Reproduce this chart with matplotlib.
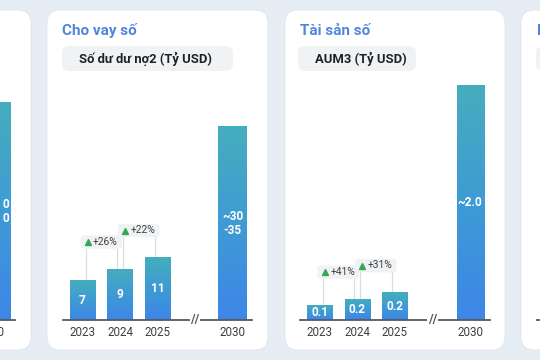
import matplotlib
matplotlib.use("Agg")
import matplotlib.pyplot as plt
import numpy as np
from matplotlib.patches import FancyBboxPatch
from matplotlib.colors import LinearSegmentedColormap

plt.rcParams['font.family'] = ['Roboto', 'DejaVu Sans']

# data
years = ['2023', '2024', '2025', '2030']
x_pos = [0, 1, 2, 4]

loan_values = [7, 9, 11, 34]
loan_labels = ['7', '9', '11', '~30\n-35']
loan_growth = ['+26%', '+22%']

aum_values = [0.13, 0.18, 0.235, 2.0]
aum_labels = ['0.1', '0.2', '0.2', '~2.0']
aum_growth = ['+41%', '+31%']

left_years = ['2030']
left_values = [1.0]
left_labels = ['0\n0']

# colours
BG = '#e7edf5'
CARD = '#ffffff'
TITLE = '#4f86dc'
PILL = '#f1f2f4'
AXIS = '#555a60'
GREEN = '#34a853'
bar_cmap = LinearSegmentedColormap.from_list('bar', ['#3d86e8', '#3f9bd4', '#45aebd'])

W, H = 540, 360
fig = plt.figure(figsize=(W / 100, H / 100), dpi=100)
fig.patch.set_facecolor(BG)

# background layer in pixel coords
bg = fig.add_axes([0, 0, 1, 1])
bg.set_xlim(0, W)
bg.set_ylim(H, 0)
bg.axis('off')


def card(x0, y0, x1, y1):
    bg.add_patch(FancyBboxPatch((x0, y0), x1 - x0, y1 - y0,
                                boxstyle='round,pad=0,rounding_size=13',
                                facecolor=CARD, edgecolor='#dde4ee', linewidth=0.6))


def pill(x0, y0, x1, y1, text):
    bg.add_patch(FancyBboxPatch((x0, y0), x1 - x0, y1 - y0,
                                boxstyle='round,pad=0,rounding_size=7',
                                facecolor=PILL, edgecolor='none'))
    bg.text(x0 + 17, (y0 + y1) / 2 + 0.5, text, ha='left', va='center',
            fontsize=9.4, fontweight='semibold', color='#202124')


card(-30, 10, 31, 350)
card(47, 10, 268, 350)
card(285, 10, 505, 350)
card(521, 10, 600, 350)

bg.text(62, 31, 'Cho vay số', ha='left', va='center', fontsize=11,
        fontweight='semibold', color=TITLE)
pill(62, 46, 233, 71, 'Số dư dư nợ2 (Tỷ USD)')
bg.text(300, 31, 'Tài sản số', ha='left', va='center', fontsize=11,
        fontweight='semibold', color=TITLE)
pill(298, 46, 416, 71, 'AUM3 (Tỷ USD)')
# next card, cut off at the edge
bg.text(537, 31, 'N', ha='left', va='center', fontsize=11,
        fontweight='semibold', color=TITLE)
bg.add_patch(FancyBboxPatch((536, 46), 20, 25, boxstyle='round,pad=0,rounding_size=7',
                            facecolor=PILL, edgecolor='none'))
bg.plot([537, 540], [320, 320], color=AXIS, lw=1.3)


def px_axes(x0, x1, ytop, ybot):
    ax = fig.add_axes([x0 / W, 1 - ybot / H, (x1 - x0) / W, (ybot - ytop) / H])
    ax.set_facecolor('none')
    for s in ['top', 'left', 'right']:
        ax.spines[s].set_visible(False)
    ax.spines['bottom'].set_color(AXIS)
    ax.spines['bottom'].set_linewidth(1.3)
    ax.set_yticks([])
    ax.tick_params(axis='x', length=0, pad=4.5, labelsize=8.4, labelcolor='#3c4043')
    return ax


growth_items = []


def draw_chart(ax, pos, values, labels, ticklabels, widths, xlim, ymax,
               growth=None, brk=None):
    bars = ax.bar(pos, values, width=widths, color='none', edgecolor='none', zorder=2)
    grad = np.linspace(0, 1, 256).reshape(-1, 1)
    for b in bars:
        im = ax.imshow(grad, cmap=bar_cmap, origin='lower', aspect='auto',
                       extent=(b.get_x(), b.get_x() + b.get_width(), 0, b.get_height()),
                       zorder=2)
        im.set_clip_path(b)
    for p, v, lab in zip(pos, values, labels):
        ax.text(p, v / 2, lab, ha='center', va='center', color='white',
                fontsize=8.6, fontweight='bold', linespacing=1.1, zorder=4)
    ax.set_xlim(*xlim)
    ax.set_ylim(0, ymax)
    ax.set_xticks(pos)
    ax.set_xticklabels(ticklabels)

    if growth:
        for i, g in enumerate(growth):
            growth_items.append((ax, pos[i], pos[i + 1], values[i], values[i + 1], g))
    if brk is not None:
        ax.text(brk, 0, '//', ha='center', va='center', fontsize=9, color=AXIS,
                fontweight='bold', clip_on=False, zorder=5,
                bbox=dict(boxstyle='square,pad=0.05', facecolor='white', edgecolor='none'))


# loan chart
ax1 = px_axes(63, 252, 100, 320)
draw_chart(ax1, x_pos, loan_values, loan_labels, years, [0.67, 0.67, 0.67, 0.75],
           (-0.52, 4.52), 220 / 5.7, growth=loan_growth, brk=3)

# AUM chart
ax2 = px_axes(300, 490, 80, 320)
draw_chart(ax2, x_pos, aum_values, aum_labels, years, [0.67, 0.67, 0.67, 0.72],
           (-0.52, 4.53), 240 / 117.5, growth=aum_growth, brk=3)

# previous card, cut off at the left edge
ax0 = px_axes(0, 15, 80, 320)
draw_chart(ax0, [0], left_values, left_labels, left_years, [0.75],
           (0.16, 0.56), 240 / 218)
for t in ax0.texts:
    t.set_x(0.35)
    t.set_ha('right')
ax0.set_xticks([])
ax0.annotate(left_years[0], xy=(0.18, 0), xytext=(0, -4.5), textcoords='offset points',
             ha='right', va='top', fontsize=8.4, color='#3c4043', annotation_clip=False)

# growth badges: text first, then measure it and build the box around it
fig.canvas.draw()
renderer = fig.canvas.get_renderer()
to_px = bg.transData.inverted()
for ax, p0, p1, v0, v1, g in growth_items:
    mid = (p0 + p1) / 2
    # badge bottom sits about 20 px above the taller bar
    ytop_bar = ax.transData.transform((mid, max(v0, v1)))[1]
    xm = ax.transData.transform((mid, 0))[0]
    t = ax.text(0, 0, g, fontsize=7.4, color='#3c4043',
                ha='left', va='bottom', zorder=4, transform=bg.transData)
    bb = t.get_window_extent(renderer)
    tw, th = bb.width, bb.height
    tri_w = 8.5
    total = tri_w + tw
    x_left = xm - total / 2
    y_bot = ytop_bar + 22
    # pixel coords in the bg axes (y down)
    (px_l, py_b) = to_px.transform((x_left, y_bot))
    t.set_position((px_l + tri_w, py_b))
    box = FancyBboxPatch((px_l - 4, py_b - th - 1.5), total + 8, th + 3.5,
                         boxstyle='round,pad=0,rounding_size=3',
                         facecolor=PILL, edgecolor='none', transform=bg.transData,
                         clip_on=False, zorder=3)
    ax.add_patch(box)
    ax.plot([px_l + 3], [py_b - th * 0.45], marker='^', markersize=4.8, color=GREEN,
            linestyle='none', transform=bg.transData, clip_on=False, zorder=4)
    # connector legs from the badge down to each bar top
    box_bottom = ax.transData.inverted().transform((0, y_bot - 2))[1]
    for leg, v in [(mid - 0.42, v0), (mid + 0.42, v1)]:
        ax.plot([leg, leg], [v, box_bottom], color='#dadde1', lw=0.9, zorder=1)

fig.savefig('out.png', dpi=100, facecolor=BG)
